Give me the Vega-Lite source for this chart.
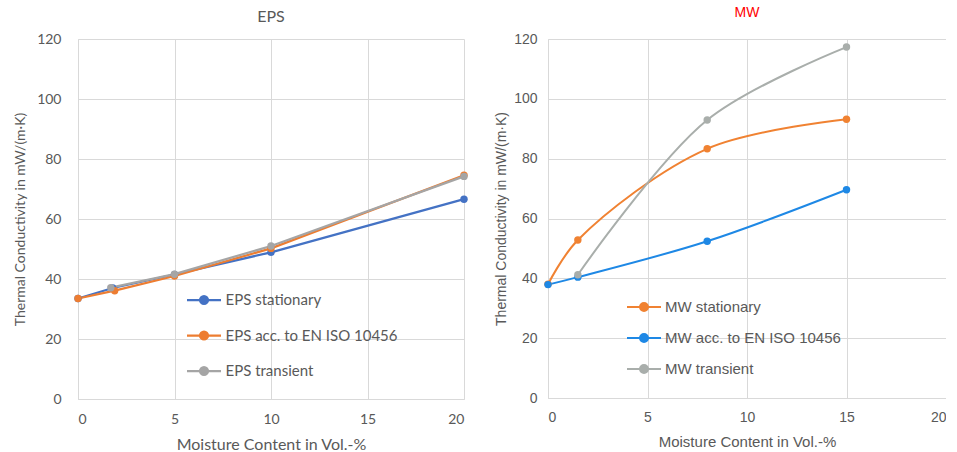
{
  "$schema": "https://vega.github.io/schema/vega-lite/v6.json",
  "background": "white",
  "padding": {"left": 13, "top": 6, "right": 0, "bottom": 0},
  "spacing": 25,
  "datasets": {
    "eps": [
      {"x": 0, "y": 33.5, "series": "EPS stationary"},
      {"x": 1.8, "y": 37.0, "series": "EPS stationary"},
      {"x": 5, "y": 41.5, "series": "EPS stationary"},
      {"x": 10, "y": 48.9, "series": "EPS stationary"},
      {"x": 20, "y": 66.6, "series": "EPS stationary"},
      {"x": 0, "y": 33.5, "series": "EPS acc. to EN ISO 10456"},
      {"x": 1.9, "y": 36.1, "series": "EPS acc. to EN ISO 10456"},
      {"x": 5, "y": 41.0, "series": "EPS acc. to EN ISO 10456"},
      {"x": 10, "y": 50.2, "series": "EPS acc. to EN ISO 10456"},
      {"x": 20, "y": 74.6, "series": "EPS acc. to EN ISO 10456"},
      {"x": 1.7, "y": 37.1, "series": "EPS transient"},
      {"x": 5, "y": 41.6, "series": "EPS transient"},
      {"x": 10, "y": 51.0, "series": "EPS transient"},
      {"x": 20, "y": 74.2, "series": "EPS transient"}
    ],
    "mw": [
      {"x": 0, "y": 38.0, "series": "MW stationary"},
      {"x": 1.5, "y": 52.8, "series": "MW stationary"},
      {"x": 8, "y": 83.3, "series": "MW stationary"},
      {"x": 15, "y": 93.2, "series": "MW stationary"},
      {"x": 0, "y": 37.9, "series": "MW acc. to EN ISO 10456"},
      {"x": 1.5, "y": 40.4, "series": "MW acc. to EN ISO 10456"},
      {"x": 8, "y": 52.4, "series": "MW acc. to EN ISO 10456"},
      {"x": 15, "y": 69.6, "series": "MW acc. to EN ISO 10456"},
      {"x": 1.5, "y": 41.2, "series": "MW transient"},
      {"x": 8, "y": 92.9, "series": "MW transient"},
      {"x": 15, "y": 117.3, "series": "MW transient"}
    ]
  },
  "resolve": {"scale": {"color": "independent"}, "legend": {"color": "independent"}},
  "config": {
    "view": {"stroke": null},
    "axis": {"grid": true, "gridColor": "#d9d9d9", "domainColor": "#d9d9d9", "ticks": false, "labelColor": "#595959", "titleColor": "#595959", "titleFontWeight": "normal", "labelFontSize": 14, "titleFontSize": 14}
  },
  "hconcat": [
    {
      "width": 386,
      "height": 360,
      "title": {"text": "EPS", "font": "Lato", "fontSize": 16, "fontWeight": "normal", "color": "#595959", "offset": 7},
      "data": {"name": "eps"},
      "mark": {"type": "line", "strokeWidth": 2.25, "point": {"filled": true, "size": 55}},
      "encoding": {
        "x": {"field": "x", "type": "quantitative", "scale": {"domain": [0, 20], "nice": false}, "axis": {"values": [0, 5, 10, 15, 20], "title": "Moisture Content in Vol.-%", "labelFont": "Lato", "titleFont": "Lato", "titleFontSize": 16, "labelPadding": 13, "titlePadding": 10}},
        "y": {"field": "y", "type": "quantitative", "scale": {"domain": [0, 120], "nice": false}, "axis": {"values": [0, 20, 40, 60, 80, 100, 120], "title": "Thermal Conductivity in mW/(m·K)", "labelFont": "Lato", "titleFont": "Lato", "labelPadding": 17, "titlePadding": 9}},
        "color": {"field": "series", "type": "nominal", "sort": null,
          "scale": {"domain": ["EPS stationary", "EPS acc. to EN ISO 10456", "EPS transient"], "range": ["#4472c4", "#ed7d31", "#a5a5a5"]},
          "legend": {"title": null, "orient": "none", "legendX": 116, "legendY": 251, "padding": 0, "symbolSize": 289, "symbolType": "M-2,0L2,0M-0.47,0A0.47,0.47,0,1,0,0.47,0A0.47,0.47,0,1,0,-0.47,0Z", "symbolStrokeWidth": 2.25, "labelOffset": 11.5, "rowPadding": 16.5, "labelLimit": 0, "labelFont": "Lato", "labelFontSize": 15, "labelColor": "#595959"}}
      }
    },
    {
      "width": 398,
      "height": 359,
      "title": {"text": "MW", "font": "Liberation Sans", "fontSize": 14, "fontWeight": "normal", "color": "#ff0000", "offset": 12},
      "data": {"name": "mw"},
      "mark": {"type": "line", "strokeWidth": 2, "interpolate": "catmull-rom", "point": {"filled": true, "size": 55}},
      "encoding": {
        "x": {"field": "x", "type": "quantitative", "scale": {"domain": [0, 20], "nice": false}, "axis": {"values": [0, 5, 10, 15, 20], "title": "Moisture Content in Vol.-%", "labelFont": "Liberation Sans", "titleFont": "Liberation Sans", "titleFontSize": 15, "labelPadding": 12, "titlePadding": 10}},
        "y": {"field": "y", "type": "quantitative", "scale": {"domain": [0, 120], "nice": false}, "axis": {"values": [0, 20, 40, 60, 80, 100, 120], "title": "Thermal Conductivity in mW/(m·K)", "labelFont": "Liberation Sans", "titleFont": "Liberation Sans", "labelPadding": 11, "titlePadding": 5}},
        "color": {"field": "series", "type": "nominal", "sort": null,
          "scale": {"domain": ["MW stationary", "MW acc. to EN ISO 10456", "MW transient"], "range": ["#f08232", "#1e88e5", "#a9aeab"]},
          "legend": {"title": null, "orient": "none", "legendX": 86.5, "legendY": 258.5, "padding": 0, "symbolSize": 289, "symbolType": "M-2,0L2,0M-0.47,0A0.47,0.47,0,1,0,0.47,0A0.47,0.47,0,1,0,-0.47,0Z", "symbolStrokeWidth": 2, "labelOffset": 11.5, "rowPadding": 13, "labelLimit": 0, "labelFont": "Liberation Sans", "labelFontSize": 15, "labelColor": "#595959"}}
      }
    }
  ]
}
